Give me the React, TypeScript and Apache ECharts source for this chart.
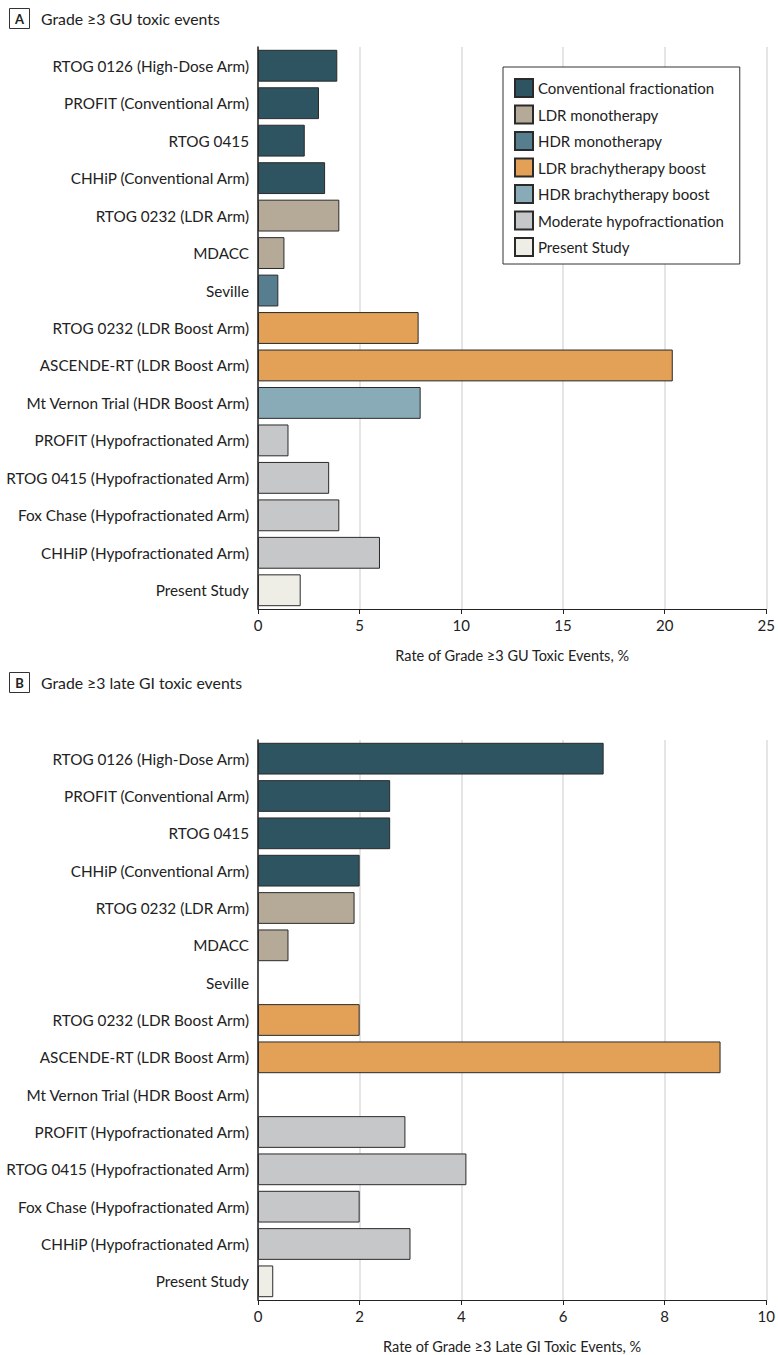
import React, { useEffect, useRef } from "react";
import * as echarts from "echarts";

const categories = [
  "RTOG 0126 (High-Dose Arm)",
  "PROFIT (Conventional Arm)",
  "RTOG 0415",
  "CHHiP (Conventional Arm)",
  "RTOG 0232 (LDR Arm)",
  "MDACC",
  "Seville",
  "RTOG 0232 (LDR Boost Arm)",
  "ASCENDE-RT (LDR Boost Arm)",
  "Mt Vernon Trial (HDR Boost Arm)",
  "PROFIT (Hypofractionated Arm)",
  "RTOG 0415 (Hypofractionated Arm)",
  "Fox Chase (Hypofractionated Arm)",
  "CHHiP (Hypofractionated Arm)",
  "Present Study",
];

const groupOfCategory = [0, 0, 0, 0, 1, 1, 2, 3, 3, 4, 5, 5, 5, 5, 6];

const groupNames = [
  "Conventional fractionation",
  "LDR monotherapy",
  "HDR monotherapy",
  "LDR brachytherapy boost",
  "HDR brachytherapy boost",
  "Moderate hypofractionation",
  "Present Study",
];

const groupColors = ["#2e5461", "#b4aa97", "#567e8e", "#e2a157", "#88abb7", "#c6c7c9", "#eeede6"];

const guValues: (number | null)[] = [3.9, 3.0, 2.3, 3.3, 4.0, 1.3, 1.0, 7.9, 20.4, 8.0, 1.5, 3.5, 4.0, 6.0, 2.1];
const giValues: (number | null)[] = [6.8, 2.6, 2.6, 2.0, 1.9, 0.6, null, 2.0, 9.1, null, 2.9, 4.1, 2.0, 3.0, 0.3];

const guTicks = { min: 0, max: 25, interval: 5 };
const giTicks = { min: 0, max: 10, interval: 2 };

const FONT = "Lato, 'Open Sans', sans-serif";

export default function App() {
  const ref = useRef<HTMLDivElement>(null);
  useEffect(() => {
    document.body.style.margin = "0";
    const chart = echarts.init(ref.current!, undefined, { renderer: "svg" });

    const makeSeries = (values: (number | null)[], gridIdx: number) =>
      groupNames.map((name, g) => ({
        name,
        type: "bar",
        stack: "s" + gridIdx,
        xAxisIndex: gridIdx,
        yAxisIndex: gridIdx,
        barCategoryGap: "15%",
        itemStyle: { color: groupColors[g], borderColor: "#2a2a2a", borderWidth: 1 },
        emphasis: { disabled: true },
        data: values.map((v, i) => (groupOfCategory[i] === g ? v : null)),
      }));

    const xAxis = (t: { min: number; max: number; interval: number }, gridIndex: number, name: string) => ({
      type: "value",
      gridIndex,
      min: t.min,
      max: t.max,
      interval: t.interval,
      name,
      nameLocation: "middle",
      nameGap: 39,
      nameTextStyle: { fontFamily: FONT, fontSize: 14.5, color: "#222" },
      axisLine: { show: true, lineStyle: { color: "#222", width: 1 } },
      axisTick: { show: true, length: 5, lineStyle: { color: "#222" } },
      axisLabel: { fontFamily: FONT, fontSize: 15, color: "#222", margin: 8 },
      splitLine: { show: true, lineStyle: { color: "#dcdcdc", width: 1.5 } },
    });

    const yAxis = (gridIndex: number) => ({
      type: "category",
      gridIndex,
      data: categories,
      inverse: true,
      axisLine: { show: true, lineStyle: { color: "#222", width: 1.5 } },
      axisTick: { show: false },
      axisLabel: { fontFamily: FONT, fontSize: 15.3, color: "#222", margin: 9 },
    });

    const titleGraphic = (y: number, letter: string, text: string) => [
      {
        type: "rect",
        shape: { x: 9.5, y: y + 0.5, width: 20, height: 20 },
        style: { fill: "#fff", stroke: "#333", lineWidth: 1 },
      },
      {
        type: "text",
        x: 19.5,
        y: y + 10.5,
        style: {
          text: letter,
          fontFamily: FONT,
          fontWeight: "bold",
          fontSize: 13,
          fill: "#222",
          align: "center",
          verticalAlign: "middle",
        },
      },
      {
        type: "text",
        x: 41,
        y: y + 10.5,
        style: {
          text,
          fontFamily: FONT,
          fontSize: 15.8,
          fill: "#222",
          align: "left",
          verticalAlign: "middle",
        },
      },
    ];

    chart.setOption({
      animation: false,
      grid: [
        { left: 258, right: 9, top: 47, height: 562 },
        { left: 258, right: 9, top: 740, height: 563 },
      ],
      xAxis: [
        xAxis(guTicks, 0, "Rate of Grade ≥3 GU Toxic Events, %"),
        xAxis(giTicks, 1, "Rate of Grade ≥3 Late GI Toxic Events, %"),
      ],
      yAxis: [yAxis(0), yAxis(1)],
      legend: {
        show: true,
        orient: "vertical",
        left: 503,
        top: 67,
        width: 228,
        padding: [11, 16, 7, 11],
        itemWidth: 18,
        itemHeight: 18,
        itemGap: 6.5,
        borderColor: "#333",
        borderWidth: 1,
        backgroundColor: "#fff",
        selectedMode: false,
        textStyle: { fontFamily: FONT, fontSize: 15, lineHeight: 18, color: "#222", padding: [0, 0, 0, 0] },
        data: groupNames.map((n) => ({ name: n, icon: "rect" })),
      },
      graphic: [
        ...titleGraphic(8, "A", "Grade ≥3 GU toxic events"),
        ...titleGraphic(672, "B", "Grade ≥3 late GI toxic events"),
      ],
      series: [...makeSeries(guValues, 0), ...makeSeries(giValues, 1)],
    });
    return () => chart.dispose();
  }, []);
  return <div ref={ref} style={{ width: 778, height: 1355 }} />;
}
